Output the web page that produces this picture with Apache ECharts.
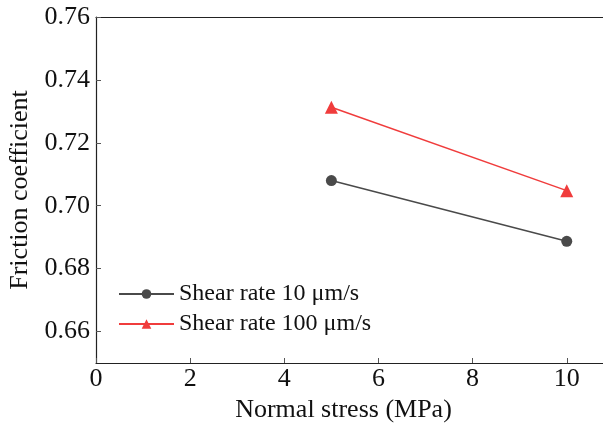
<!DOCTYPE html>
<html><head><meta charset="utf-8">
<script src="https://cdn.jsdelivr.net/npm/echarts@6/dist/echarts.min.js"></script>
<style>html,body{margin:0;padding:0;background:#fff}#c{width:603px;height:425px}</style>
</head><body><div id="c"></div>
<script>
const stress = [5, 10];
const rate10 = [0.708, 0.6887];
const rate100 = [0.7313, 0.7048];
const seriesNames = ['Shear rate 10 μm/s', 'Shear rate 100 μm/s'];
const xTitle = 'Normal stress (MPa)';
const yTitle = 'Friction coefficient';
const yTicks = [0.66, 0.68, 0.70, 0.72, 0.74, 0.76];
const xTicks = [0, 2, 4, 6, 8, 10];

const font = 'Liberation Serif, Times New Roman, serif';
const chart = echarts.init(document.getElementById('c'));
chart.setOption({
  animation: false,
  backgroundColor: '#fff',
  grid: {left: 96, top: 17, right: 0, bottom: 62, containLabel: false, outerBoundsMode: 'none'},
  legend: {
    left: 113, top: 277, orient: 'vertical', itemWidth: 55, itemHeight: 12, itemGap: 6,
    textStyle: {fontFamily: font, fontSize: 24, color: '#111'},
    data: seriesNames
  },
  xAxis: [{
    type: 'value', min: 0, max: 10.77,
    name: xTitle, nameLocation: 'middle', nameGap: 33,
    nameTextStyle: {fontFamily: font, fontSize: 26, color: '#111', padding: [0, 12, 0, 0]},
    axisLine: {lineStyle: {color: '#222', width: 1.2}},
    axisTick: {inside: true, length: 5, lineStyle: {color: '#555'}, customValues: xTicks},
    axisLabel: {fontFamily: font, fontSize: 26, color: '#111', margin: 3, customValues: xTicks},
    splitLine: {show: false}
  }, {
    type: 'value', position: 'top', min: 0, max: 10.77,
    axisLine: {show: true, lineStyle: {color: '#222', width: 1.2}},
    axisTick: {show: false}, axisLabel: {show: false}, splitLine: {show: false}
  }],
  yAxis: {
    type: 'value', min: 0.65, max: 0.76,
    name: yTitle, nameLocation: 'middle', nameGap: 62,
    nameTextStyle: {fontFamily: font, fontSize: 26, color: '#111'},
    axisLine: {show: true, lineStyle: {color: '#222', width: 1.2}},
    axisTick: {inside: true, length: 5, lineStyle: {color: '#555'}, customValues: yTicks},
    axisLabel: {fontFamily: font, fontSize: 26, color: '#111', margin: 6,
      formatter: v => v.toFixed(2), customValues: yTicks},
    splitLine: {show: false}
  },
  series: [{
    name: seriesNames[0], type: 'line', data: stress.map((x, i) => [x, rate10[i]]),
    symbol: 'circle', symbolSize: 11,
    lineStyle: {color: '#4a4a4a', width: 1.5}, itemStyle: {color: '#4a4a4a'}
  }, {
    name: seriesNames[1], type: 'line', data: stress.map((x, i) => [x, rate100[i]]),
    symbol: 'triangle', symbolSize: 13,
    lineStyle: {color: '#f03c3c', width: 1.5}, itemStyle: {color: '#f03c3c'}
  }]
});
</script></body></html>
